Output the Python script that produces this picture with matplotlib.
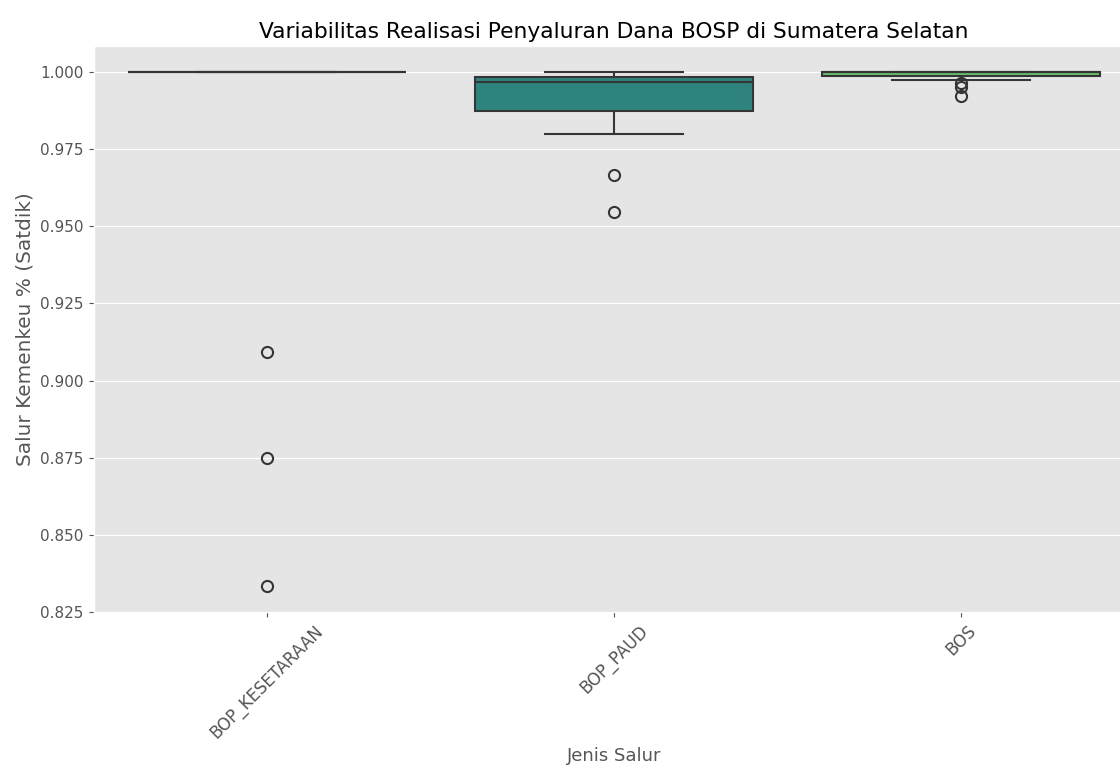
import pandas as pd
import numpy as np
import matplotlib
matplotlib.use('Agg')
import matplotlib.pyplot as plt
import seaborn as sns

# data realisasi penyaluran per jenis salur (rasio salur kemenkeu / satdik)
kategori = ['BOP_KESETARAAN', 'BOP_PAUD', 'BOS']

bop_kesetaraan = [1.0] * 20 + [0.9091, 0.875, 0.8333]
bop_paud = [0.9545, 0.9667, 0.9800, 0.9850, 0.9875, 0.9900, 0.9930, 0.9950,
            0.9967, 0.9970, 0.9975, 0.9980, 0.9984, 0.9990, 1.0, 1.0, 1.0]
bos = [0.9921, 0.9953, 0.9965, 0.9975, 0.9988, 0.9993, 0.9996] + [1.0] * 10

df = pd.DataFrame({
    'Jenis Salur': [kategori[0]] * len(bop_kesetaraan)
                   + [kategori[1]] * len(bop_paud)
                   + [kategori[2]] * len(bos),
    'Salur Kemenkeu % (Satdik)': bop_kesetaraan + bop_paud + bos,
})

plt.style.use('ggplot')
fig = plt.figure(figsize=(11.2, 7.71), dpi=100)
ax = fig.add_axes([0.0835, 0.2062, 0.9295, 0.7337])

sns.boxplot(data=df, x='Jenis Salur', y='Salur Kemenkeu % (Satdik)',
            hue='Jenis Salur', palette='viridis', order=kategori, ax=ax,
            linewidth=1.5, fliersize=8,
            flierprops={'markeredgewidth': 1.5})

ax.set_title('Variabilitas Realisasi Penyaluran Dana BOSP di Sumatera Selatan',
             fontsize=15.7)
ax.set_xlabel('Jenis Salur', fontsize=13)
ax.set_ylabel('Salur Kemenkeu % (Satdik)', fontsize=14.4)
plt.xticks(rotation=45, fontsize=12)
plt.yticks(fontsize=11)

fig.savefig('out.png', dpi=100)
